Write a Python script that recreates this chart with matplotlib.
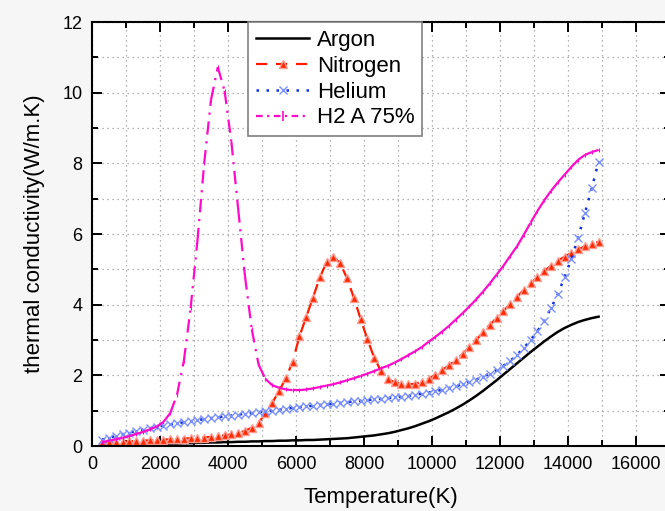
import matplotlib
matplotlib.use("Agg")
import matplotlib.pyplot as plt
from matplotlib.collections import LineCollection
from matplotlib.lines import Line2D
from matplotlib.ticker import MultipleLocator

plt.rcParams["font.family"] = ["Liberation Sans", "DejaVu Sans"]

# Temperature grid (K)
temperature = [
    300, 500, 700, 900, 1100, 1300, 1500, 1700, 1900,
    2100, 2300, 2500, 2700, 2900, 3100, 3300, 3500, 3700, 3900,
    4100, 4300, 4500, 4700, 4900, 5100, 5300, 5500, 5700, 5900,
    6100, 6300, 6500, 6700, 6900, 7100, 7300, 7500, 7700, 7900,
    8100, 8300, 8500, 8700, 8900, 9100, 9300, 9500, 9700, 9900,
    10100, 10300, 10500, 10700, 10900, 11100, 11300, 11500, 11700, 11900,
    12100, 12300, 12500, 12700, 12900, 13100, 13300, 13500, 13700, 13900,
    14100, 14300, 14500, 14700, 14900,
]

# thermal conductivity (W/m.K)
argon = [
    0.02, 0.02, 0.03, 0.03, 0.04, 0.04, 0.05, 0.05, 0.06,
    0.06, 0.07, 0.07, 0.08, 0.08, 0.09, 0.09, 0.10, 0.10, 0.11,
    0.11, 0.12, 0.12, 0.13, 0.13, 0.14, 0.14, 0.15, 0.15, 0.16,
    0.16, 0.17, 0.17, 0.18, 0.19, 0.20, 0.21, 0.22, 0.24, 0.26,
    0.28, 0.30, 0.33, 0.36, 0.40, 0.45, 0.50, 0.56, 0.63, 0.70,
    0.78, 0.87, 0.96, 1.06, 1.17, 1.29, 1.42, 1.56, 1.71, 1.86,
    2.02, 2.18, 2.34, 2.50, 2.66, 2.81, 2.96, 3.10, 3.23, 3.34,
    3.43, 3.51, 3.57, 3.62, 3.66,
]

nitrogen = [
    0.10, 0.11, 0.12, 0.12, 0.13, 0.14, 0.15, 0.16, 0.17,
    0.18, 0.19, 0.20, 0.21, 0.22, 0.23, 0.24, 0.26, 0.28, 0.30,
    0.33, 0.37, 0.43, 0.52, 0.66, 0.92, 1.22, 1.55, 1.92, 2.38,
    3.10, 3.65, 4.20, 4.77, 5.20, 5.36, 5.17, 4.75, 4.20, 3.60,
    3.02, 2.50, 2.12, 1.90, 1.80, 1.76, 1.75, 1.76, 1.82, 1.90,
    2.02, 2.15, 2.28, 2.43, 2.60, 2.80, 3.00, 3.22, 3.43, 3.62,
    3.82, 4.02, 4.22, 4.42, 4.60, 4.78, 4.95, 5.10, 5.24, 5.36,
    5.47, 5.57, 5.65, 5.72, 5.78,
]

helium = [
    0.18, 0.23, 0.28, 0.33, 0.38, 0.42, 0.46, 0.50, 0.54,
    0.58, 0.61, 0.64, 0.67, 0.70, 0.73, 0.76, 0.79, 0.81, 0.84,
    0.86, 0.89, 0.91, 0.93, 0.96, 0.98, 1.00, 1.03, 1.05, 1.08,
    1.10, 1.12, 1.14, 1.16, 1.18, 1.20, 1.22, 1.24, 1.26, 1.28,
    1.30, 1.32, 1.34, 1.36, 1.38, 1.40, 1.42, 1.45, 1.48, 1.51,
    1.55, 1.59, 1.64, 1.69, 1.75, 1.81, 1.88, 1.96, 2.05, 2.15,
    2.27, 2.41, 2.58, 2.78, 3.00, 3.25, 3.55, 3.90, 4.30, 4.78,
    5.30, 5.90, 6.60, 7.30, 8.05,
]

h2_a75 = [
    0.11, 0.15, 0.19, 0.23, 0.28, 0.34, 0.40, 0.47, 0.55,
    0.68, 0.93, 1.45, 2.40, 3.90, 5.80, 8.00, 9.80, 10.72, 10.05,
    8.60, 6.70, 4.80, 3.30, 2.30, 1.90, 1.72, 1.65, 1.60, 1.58,
    1.58, 1.60, 1.63, 1.67, 1.71, 1.75, 1.80, 1.86, 1.92, 1.98,
    2.05, 2.12, 2.20, 2.27, 2.36, 2.46, 2.57, 2.68, 2.80, 2.95,
    3.09, 3.24, 3.40, 3.58, 3.76, 3.95, 4.15, 4.37, 4.60, 4.85,
    5.10, 5.38, 5.65, 5.98, 6.32, 6.65, 6.95, 7.22, 7.46, 7.68,
    7.90, 8.10, 8.24, 8.32, 8.38,
]

H2_COLOR = "#ff0acb"
H2_DASH = (0, (6, 3, 1, 3))

fig = plt.figure(figsize=(6.65, 5.11), dpi=100, facecolor="#f6f6f6")
ax = fig.add_axes([92 / 665, 65 / 511, 578 / 665, 424 / 511])
ax.set_facecolor("white")

ax.plot(temperature, argon, color="black", lw=1.8, label="Argon")
ax.plot(temperature, nitrogen, color="#ff1a00", lw=1.6, ls=(0, (5, 4)),
        marker="^", ms=6, mfc="#ff2a00", mec="#ff9a90", mew=1.0,
        label="Nitrogen")
ax.plot(temperature, helium, color="#1030e0", lw=1.8, ls=(0, (1, 3)),
        marker="x", ms=5.5, mec="#7a90ff", mew=1.0, label="Helium")

# dash pattern restarts on every segment, so the dense part looks solid
segs = [[(temperature[i], h2_a75[i]), (temperature[i + 1], h2_a75[i + 1])]
        for i in range(len(temperature) - 1)]
ax.add_collection(LineCollection(segs, colors=H2_COLOR, linewidths=1.6,
                                 linestyles=[H2_DASH]))
ax.plot(temperature, h2_a75, ls="none", marker="|", ms=3.5,
        mec=H2_COLOR, mew=0.8)
h2_handle = Line2D([], [], color=H2_COLOR, lw=1.6, ls=(0, (3, 2, 1, 2)),
                   marker="|", ms=7, mew=1.2, label="H2 A 75%")

ax.set_xlim(0, 17000)
ax.set_ylim(0, 12)
ax.xaxis.set_major_locator(MultipleLocator(2000))
ax.xaxis.set_minor_locator(MultipleLocator(1000))
ax.yaxis.set_major_locator(MultipleLocator(2))
ax.yaxis.set_minor_locator(MultipleLocator(1))

ax.grid(True, which="both", color="#9a9a9a", ls=(0, (1, 3)), lw=0.9)
ax.set_axisbelow(True)

ax.tick_params(which="both", direction="in", top=True, right=True,
               labelsize=13, width=1.4, pad=7)
ax.tick_params(which="major", length=7)
ax.tick_params(which="minor", length=4)
for sp in ax.spines.values():
    sp.set_linewidth(1.5)

ax.set_xlabel("Temperature(K)", fontsize=16, labelpad=10)
ax.set_ylabel("thermal conductivity(W/m.K)", fontsize=16, labelpad=12)

handles, labels = ax.get_legend_handles_labels()
handles.append(h2_handle)
labels.append("H2 A 75%")
leg = ax.legend(handles, labels, loc="upper left", bbox_to_anchor=(0.27, 1.0),
                borderaxespad=0, fontsize=16, fancybox=False,
                edgecolor="#808080", framealpha=1, handlelength=2.4,
                handletextpad=0.35, labelspacing=0.22, borderpad=0.35)
leg.get_frame().set_linewidth(1.2)

fig.savefig("out.png", dpi=100, facecolor=fig.get_facecolor())
